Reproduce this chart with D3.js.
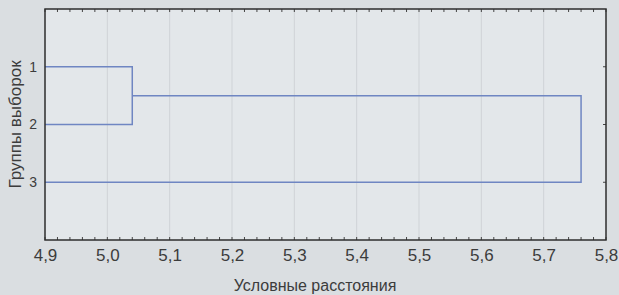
<!DOCTYPE html>
<html>
<head>
<meta charset="utf-8">
<script src="https://cdn.jsdelivr.net/npm/d3@7"></script>
<style>
  html, body { margin: 0; padding: 0; background: #dadee1; }
  svg { display: block; font-family: "Liberation Sans", Arial, sans-serif; }
</style>
</head>
<body>
<svg id="tree"></svg>
<script>
// листья и объединения кластеров
const leaves = ['1', '2', '3'];
const leafOrder = [1, 2, 3];
const mergeLeft = ['1', 'c12'];
const mergeRight = ['2', '3'];
const mergeName = ['c12', 'root'];
const mergeHeight = [5.04, 5.76];
const xTicks = [4.9, 5.0, 5.1, 5.2, 5.3, 5.4, 5.5, 5.6, 5.7, 5.8];

const width = 619, height = 295;
const padding = {top: 9, right: 13, bottom: 55, left: 45};

const svg = d3.select('#tree')
    .attr('width', width)
    .attr('height', height);

const xScale = d3.scaleLinear()
    .domain([4.9, 5.8])
    .range([padding.left, width - padding.right]);

const yScale = d3.scaleLinear()
    .domain([0, 4])
    .range([padding.top, height - padding.bottom]);

// фон области графика
svg.append('rect')
    .attr('x', xScale(4.9)).attr('y', yScale(0))
    .attr('width', xScale(5.8) - xScale(4.9))
    .attr('height', yScale(4) - yScale(0))
    .attr('fill', '#e3e7ea');

// вертикальная сетка
svg.append('g')
    .selectAll('line')
    .data(xTicks.slice(1, -1))
    .enter()
    .append('line')
    .attr('x1', d => xScale(d)).attr('x2', d => xScale(d))
    .attr('y1', yScale(0)).attr('y2', yScale(4))
    .attr('stroke', '#cfd3d7')
    .attr('stroke-width', 1);

// координаты узлов
const pos = {};
leaves.forEach((l, i) => { pos[l] = {x: 4.9, y: leafOrder[i]}; });
mergeName.forEach((n, i) => {
    const a = pos[mergeLeft[i]], b = pos[mergeRight[i]];
    pos[n] = {x: mergeHeight[i], y: (a.y + b.y) / 2};
});

const links = mergeName.map((n, i) => ({a: pos[mergeLeft[i]], b: pos[mergeRight[i]], h: mergeHeight[i]}));

svg.append('g')
    .selectAll('path')
    .data(links)
    .enter()
    .append('path')
    .attr('d', d => `M${xScale(d.a.x)},${yScale(d.a.y)}H${xScale(d.h)}V${yScale(d.b.y)}H${xScale(d.b.x)}`)
    .attr('fill', 'none')
    .attr('stroke', '#6f86c2')
    .attr('stroke-width', 1.5);

// рамка и оси
const minor = d3.range(4.9, 5.8001, 0.02);
const xBottom = d3.axisBottom(xScale)
    .tickValues(xTicks)
    .tickFormat(d => d3.format('.1f')(d).replace('.', ','))
    .tickSize(0)
    .tickPadding(9);

svg.append('g')
    .attr('transform', `translate(0, ${yScale(4)})`)
    .call(xBottom)
    .call(g => g.select('.domain').remove())
    .selectAll('text')
    .attr('font-size', 17)
    .attr('fill', '#3c3c3c');

// мелкие засечки сверху и снизу
[[yScale(0), 1], [yScale(4), -1]].forEach(([y0, dir]) => {
    svg.append('g').selectAll('line')
        .data(minor)
        .enter()
        .append('line')
        .attr('x1', d => xScale(d)).attr('x2', d => xScale(d))
        .attr('y1', y0).attr('y2', y0 + dir * 3)
        .attr('stroke', '#444');
});

const yLeft = d3.axisLeft(yScale)
    .tickValues(leafOrder)
    .tickFormat((d, i) => leaves[i])
    .tickSize(0)
    .tickPadding(8);

svg.append('g')
    .attr('transform', `translate(${xScale(4.9)}, 0)`)
    .call(yLeft)
    .call(g => g.select('.domain').remove())
    .selectAll('text')
    .attr('font-size', 14)
    .attr('fill', '#3c3c3c');

svg.append('g').selectAll('line')
    .data(leafOrder)
    .enter()
    .append('line')
    .attr('x1', xScale(5.8)).attr('x2', xScale(5.8) - 3)
    .attr('y1', d => yScale(d)).attr('y2', d => yScale(d))
    .attr('stroke', '#444');

svg.append('rect')
    .attr('x', xScale(4.9)).attr('y', yScale(0))
    .attr('width', xScale(5.8) - xScale(4.9))
    .attr('height', yScale(4) - yScale(0))
    .attr('fill', 'none')
    .attr('stroke', '#2e2e2e')
    .attr('stroke-width', 1.5);

// подписи осей
svg.append('text')
    .attr('x', 315)
    .attr('y', 291)
    .attr('text-anchor', 'middle')
    .attr('font-size', 16)
    .attr('fill', '#3c3c3c')
    .text('Условные расстояния');

svg.append('text')
    .attr('transform', `translate(21, ${yScale(2)}) rotate(-90)`)
    .attr('text-anchor', 'middle')
    .attr('font-size', 17)
    .attr('fill', '#3c3c3c')
    .text('Группы выборок');
</script>
</body>
</html>
